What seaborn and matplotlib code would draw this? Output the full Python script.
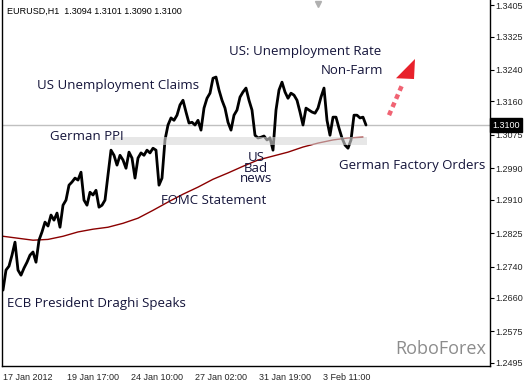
import matplotlib
matplotlib.use("Agg")
import matplotlib.pyplot as plt
from matplotlib.patches import Rectangle, Polygon
import numpy as np
import pandas as pd
import seaborn as sns

#####################################################################
# Data (one value every 3 hourly bars)
#####################################################################
prices = [1.2680, 1.2731, 1.2741, 1.2769, 1.2802, 1.2731, 1.2718, 1.2736, 1.2751, 1.2769,
          1.2777, 1.2751, 1.2807, 1.2828, 1.2853, 1.2843, 1.2871, 1.2858, 1.2876, 1.2840,
          1.2896, 1.2909, 1.2947, 1.2955, 1.2965, 1.2960, 1.2980, 1.2909, 1.2896, 1.2929,
          1.2922, 1.2934, 1.2891, 1.2896, 1.2909, 1.2973, 1.3036, 1.3023, 1.2998, 1.3023,
          1.3011, 1.2990, 1.3031, 1.3016, 1.2965, 1.3016, 1.3029, 1.3023, 1.3036, 1.3029,
          1.3041, 1.3036, 1.2947, 1.2965, 1.3062, 1.3100, 1.3118, 1.3112, 1.3125, 1.3151,
          1.3163, 1.3133, 1.3105, 1.3107, 1.3100, 1.3112, 1.3087, 1.3143, 1.3168, 1.3181,
          1.3219, 1.3222, 1.3189, 1.3163, 1.3143, 1.3107, 1.3087, 1.3125, 1.3138, 1.3171,
          1.3184, 1.3194, 1.3163, 1.3138, 1.3074, 1.3067, 1.3069, 1.3072, 1.3062, 1.3067,
          1.3036, 1.3138, 1.3189, 1.3209, 1.3184, 1.3168, 1.3181, 1.3176, 1.3163, 1.3133,
          1.3100, 1.3143, 1.3138, 1.3133, 1.3130, 1.3143, 1.3171, 1.3194, 1.3112, 1.3074,
          1.3120, 1.3120, 1.3092, 1.3067, 1.3049, 1.3041, 1.3062, 1.3125, 1.3125, 1.3118,
          1.3120, 1.3100]
PRICE_STEP = 3

# moving average, one value every 15 bars
ma_values = [1.2817, 1.2812, 1.2807, 1.2809, 1.2817, 1.2828, 1.2835, 1.2840, 1.2850,
             1.2863, 1.2883, 1.2904, 1.2924, 1.2942, 1.2962, 1.2978, 1.2995, 1.3011,
             1.3021, 1.3031, 1.3044, 1.3054, 1.3062, 1.3067, 1.3069]
MA_STEP = 15

last_price = 1.3100
support_zone = (1.3049, 1.3069)

ytick_values = [1.3405, 1.3325, 1.3240, 1.3160, 1.3075, 1.2990, 1.2910,
                1.2825, 1.2740, 1.2660, 1.2575, 1.2495]
xtick_bars = [0, 64, 128, 192, 256, 320]
xtick_labels = ["17 Jan 2012", "19 Jan 17:00", "24 Jan 10:00",
                "27 Jan 02:00", "31 Jan 19:00", "3 Feb 11:00"]

title_text = "EURUSD,H1  1.3094 1.3101 1.3090 1.3100"

#####################################################################
# Plot
#####################################################################
sns.set_style("white")
plt.rcParams['font.family'] = ['Liberation Sans', 'DejaVu Sans']

W, H = 530, 383
fig = plt.figure(figsize=(W / 100, H / 100), dpi=100)
ax = fig.add_axes([2 / W, 1 - 366 / H, 488 / W, 366 / H])

df_price = pd.DataFrame({'bar': np.arange(len(prices)) * PRICE_STEP, 'price': prices})
df_ma = pd.DataFrame({'bar': np.arange(len(ma_values)) * MA_STEP, 'ma': ma_values})

ax.axhline(last_price, color='#c0c0c0', lw=1, zorder=1)
sns.lineplot(data=df_ma, x='bar', y='ma', ax=ax, color='#8b0000', lw=1, zorder=2)
sns.lineplot(data=df_price, x='bar', y='price', ax=ax, color='black', lw=2.0, zorder=3)

# support zone
ax.add_patch(Rectangle((107, support_zone[0]), 257, support_zone[1] - support_zone[0],
                       facecolor='#d8d8d8', edgecolor='none', alpha=0.6, zorder=4))

# red arrow
ax.plot([386, 400], [1.3125, 1.3207], color='#f06373', lw=3.2, ls=(0, (1.1, 0.9)),
        solid_capstyle='butt', zorder=5)
ax.add_patch(Polygon([(393, 1.3219), (412, 1.3268), (411, 1.3217)], closed=True,
                     facecolor='#e8212b', edgecolor='none', zorder=5))

ax.set_xlim(-1, 487)
ax.set_ylim(1.2487, 1.3418)
ax.set_xlabel('')
ax.set_ylabel('')

ax.set_xticks(xtick_bars)
ax.set_xticklabels(xtick_labels, fontsize=6.5, ha='left')
ax.yaxis.tick_right()
ax.set_yticks(ytick_values)
ax.set_yticklabels(["{:.4f}".format(v) for v in ytick_values], fontsize=6.5)
ax.tick_params(axis='both', direction='out', length=3, width=0.8, color='black', pad=1)
ax.tick_params(axis='x', pad=2)

for side in ['left', 'bottom', 'right']:
    ax.spines[side].set_visible(True)
    ax.spines[side].set_color('black')
    ax.spines[side].set_linewidth(1)
ax.spines['top'].set_visible(False)

# current price box
ax.text(1.005, last_price, "1.3100", transform=ax.get_yaxis_transform(), fontsize=6.5,
        color='white', va='center', ha='left',
        bbox=dict(boxstyle='square,pad=0.25', facecolor='black', edgecolor='black'))

# chart shift marker
ax.plot([315], [1.3409], marker='v', color='#b0b0b0', ms=5, clip_on=False, zorder=6)

# texts (figure pixel positions)
def ftext(x, y, s, **kw):
    fig.text(x / W, 1 - y / H, s, va='center', **kw)

ftext(7, 11, title_text, fontsize=6.5, color='black')

note = dict(fontsize=9.5, color='#14143a', family=['Open Sans', 'DejaVu Sans'])
ftext(229, 51, "US: Unemployment Rate", **note)
ftext(383, 71, "Non-Farm", ha='right', **note)
ftext(37, 86, "US Unemployment Claims", **note)
ftext(50, 136, "German PPI", **note)
ftext(256, 168, "US\nBad\nnews", ha='center', multialignment='center',
      linespacing=0.78, **note)
ftext(161, 200, "FOMC Statement", **note)
ftext(339, 165, "German Factory Orders", **note)
ftext(7, 303, "ECB President Draghi Speaks", **note)
ftext(486, 349, "RoboForex", ha='right', fontsize=13, color='#8c8c8c',
      family=['Open Sans', 'DejaVu Sans'])

plt.savefig("out.png", dpi=100)
plt.close()
